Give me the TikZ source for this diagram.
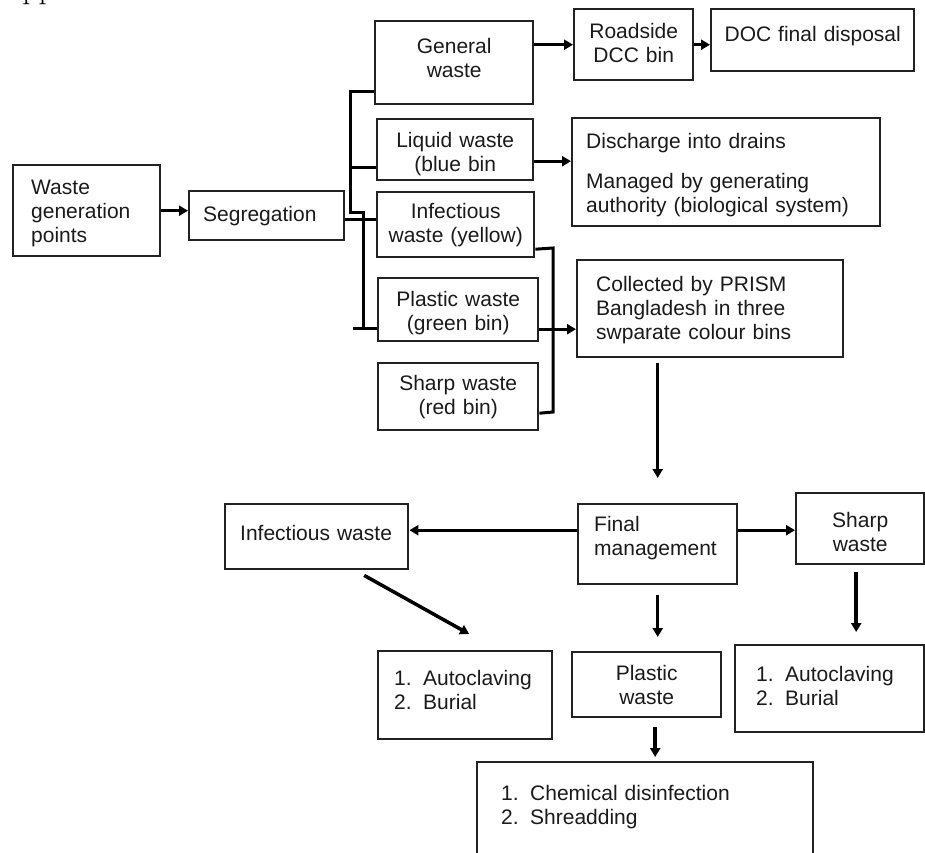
\documentclass[tikz,border=0pt]{standalone}
\usepackage{fontspec}
\setsansfont{Liberation Sans}
\usetikzlibrary{arrows.meta}
\newcommand{\dfont}{\sffamily\fontsize{21pt}{24pt}\selectfont\spaceskip=0.45em\relax}
\newcommand{\itm}[1]{\makebox[29pt][l]{#1}}
\newcommand{\ltx}[2]{\leftskip=#1pt\relax #2\par}
\definecolor{ink}{HTML}{1A1A1A}
\definecolor{edge}{HTML}{222222}
\begin{document}
\begin{tikzpicture}[x=1pt,y=-1pt,
  box/.style={draw=edge, line width=2.4pt, inner sep=0pt, font=\dfont, text=ink, anchor=north west},
  bx/.style n args={3}{text width=#1pt, text height=#2pt, text depth=#3pt},
  lbox/.style={box, align=left},
  cbox/.style={box, align=center},
  conn/.style={line width=3pt, draw=black, line join=miter},
  arr/.style={conn, -{Triangle[length=9pt,width=10pt]}}]
\useasboundingbox (0,0) rectangle (925,852);

% cropped heading at the top edge
\node[anchor=base west, inner sep=0pt, font=\rmfamily\fontsize{32pt}{36pt}\selectfont] (hdr) at (0,-2) {Appendix};

% first column
\node[lbox, bx={147}{29}{62}] (wgp) at (12,164) {\ltx{18}{Waste\\generation\\points}};
\node[lbox, bx={155}{30}{19}] (seg) at (188,190) {\ltx{14}{Segregation}};

% waste categories
\node[cbox, bx={158}{32}{51}] (gen) at (374,20) {General\\waste};
\node[cbox, bx={156}{28}{33}] (liq) at (376,118) {Liquid waste\\(blue bin};
\node[cbox, bx={157}{26}{39}] (inf) at (376,191) {Infectious\\waste (yellow)};
\node[cbox, bx={160}{28}{35}] (pla) at (377,277) {Plastic waste\\(green bin)};
\node[cbox, bx={160}{27}{40}] (sha) at (377,362) {Sharp waste\\(red bin)};

% right column, top
\node[cbox, bx={119}{29}{42}] (road) at (573,8) {Roadside\\DCC bin};
\node[cbox, bx={203}{32}{30}] (doc) at (710,8) {DOC final disposal};
\node[lbox, bx={308}{30}{78}] (dis) at (571,117) {\ltx{14}{Discharge into drains\\[16pt]Managed by generating\\authority (biological system)}};
\node[lbox, bx={266}{31}{66}] (col) at (576,259) {\ltx{19}{Collected by PRISM\\Bangladesh in three\\swparate colour bins}};

% final management
\node[lbox, bx={159}{27}{53}] (fin) at (577,503) {\ltx{16}{Final\\management}};
\node[lbox, bx={183}{36}{29}] (infw) at (224,503) {\ltx{15}{Infectious waste}};
\node[cbox, bx={128}{34}{37}] (shw) at (795,492) {Sharp\\waste};
\node[lbox, bx={174}{34}{54}] (aut1) at (377,650) {\ltx{16}{\itm{1.}Autoclaving\\\itm{2.}Burial}};
\node[cbox, bx={149}{28}{37}] (plw) at (571,651) {Plastic\\waste};
\node[lbox, bx={189}{36}{51}] (aut2) at (734,644) {\ltx{21}{\itm{1.}Autoclaving\\\itm{2.}Burial}};
\node[lbox, bx={336}{38}{81}] (bot) at (476,761) {\ltx{24}{\itm{1.}Chemical disinfection\\\itm{2.}Shreadding}};

% bus from segregation
\coordinate (b1) at (350,91);
\coordinate (b2) at (350,212);
\coordinate (b3) at (363,212);
\coordinate (b4) at (363,328);
\coordinate (b5) at (353,328);
\coordinate (b6) at (350,167);
\draw[conn] (b1 -| gen.west) -- (b1) -- (b2) -- (b3) -- (b4);
\draw[conn] (b5) -- (b5 -| pla.west);
\draw[conn] (b6) -- (b6 -| liq.west);
\draw[conn] ([yshift=-3.5pt]seg.east) -- ([yshift=5.5pt]inf.west);

% infectious + sharp collector
\coordinate (c1) at (553,248);
\coordinate (c2) at (553,412);
\draw[conn] ([yshift=-24.5pt]inf.east) -- (c1) -- (c2) -- ([yshift=-16.5pt]sha.east);

% arrows
\draw[arr] (wgp.east) -- (wgp.east -| seg.west);
\draw[arr] (road.west -| gen.east) -- (road.west);
\draw[arr] (road.east) -- (road.east -| doc.west);
\draw[arr] ([yshift=-11.5pt]liq.east) -- ([yshift=11pt]dis.west);
\draw[arr] ([yshift=-19.5pt]pla.east) -- ([yshift=-20.5pt]col.west);
\draw[arr, line width=3.5pt, shorten <=5pt, shorten >=25pt] (col.south -| fin.north) -- (fin.north);
\draw[arr] ([yshift=14pt]fin.west) -- ([yshift=6.5pt]infw.east);
\draw[arr] ([yshift=14pt]fin.east) -- ([yshift=-1.5pt]shw.west);
\draw[arr, line width=3.5pt] ([xshift=47.5pt,yshift=-5pt]infw.south) -- ([xshift=4pt,yshift=16pt]aut1.north);
\draw[arr, line width=3.5pt, shorten <=10pt, shorten >=14pt] (fin.south) -- (fin.south |- plw.north);
\coordinate (s1) at ([xshift=-4pt]shw.south);
\draw[arr, line width=3.5pt, shorten <=7pt, shorten >=12pt] (s1) -- (s1 |- aut2.north);
\coordinate (p1) at ([xshift=8.5pt]plw.south);
\draw[arr, line width=3.5pt, shorten <=9pt, shorten >=4pt] (p1) -- (p1 |- bot.north);
\end{tikzpicture}
\end{document}
